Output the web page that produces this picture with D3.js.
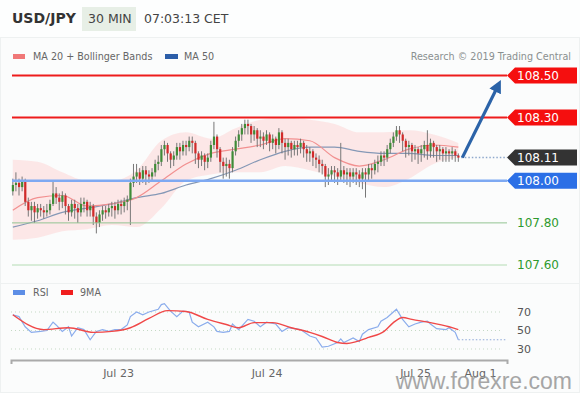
<!doctype html>
<html>
<head>
<script src="https://cdn.jsdelivr.net/npm/d3@7"></script>
<style>
  body { margin:0; background:#fff; }
  svg { font-family:"DejaVu Sans", sans-serif; display:block; }
</style>
</head>
<body>
<script>
// 30 min bars, Jul 22 07:00 -> Jul 25 07:00
var firstOpen = 107.95;
var closes = [
  107.98,107.99,107.97,108.00,107.90,107.86,107.88,107.85,107.87,107.86,
  107.85,107.86,107.89,107.94,107.92,107.90,107.93,107.88,107.85,107.89,
  107.87,107.85,107.89,107.90,107.86,107.88,107.83,107.80,107.84,107.86,
  107.85,107.87,107.88,107.86,107.89,107.88,107.90,107.91,107.99,108.02,
  108.04,108.01,108.05,108.03,108.02,108.04,108.08,108.09,108.15,108.17,
  108.13,108.10,108.12,108.16,108.14,108.17,108.16,108.19,108.18,108.13,
  108.10,108.12,108.09,108.11,108.17,108.21,108.15,108.09,108.07,108.08,
  108.06,108.14,108.19,108.22,108.25,108.27,108.26,108.22,108.24,108.20,
  108.21,108.19,108.22,108.18,108.20,108.17,108.23,108.18,108.16,108.18,
  108.15,108.17,108.16,108.18,108.15,108.13,108.14,108.11,108.10,108.08,
  108.07,108.02,108.03,108.05,108.04,108.02,108.05,108.03,108.04,108.02,
  108.04,108.03,108.01,108.04,108.03,108.06,108.05,108.08,108.09,108.12,
  108.11,108.15,108.18,108.21,108.24,108.22,108.19,108.16,108.17,108.14,
  108.15,108.13,108.15,108.17,108.14,108.18,108.16,108.14,108.15,108.13,
  108.14,108.13,108.14,108.12,108.11
];
var highs = [
  108.01,108.04,108.01,108.02,108.01,107.92,107.90,107.90,107.89,107.89,
  107.88,107.89,107.91,108.00,107.97,107.94,107.95,107.94,107.89,107.91,
  107.91,107.89,107.92,107.92,107.91,107.90,107.89,107.85,107.86,107.88,
  107.88,107.89,107.90,107.90,107.91,107.91,107.92,107.93,108.01,108.08,
  108.08,108.06,108.07,108.07,108.05,108.06,108.10,108.12,108.17,108.19,
  108.18,108.14,108.14,108.18,108.18,108.19,108.19,108.21,108.21,108.19,
  108.14,108.14,108.13,108.13,108.19,108.28,108.22,108.16,108.11,108.11,
  108.10,108.16,108.21,108.24,108.27,108.29,108.29,108.27,108.26,108.25,
  108.24,108.23,108.24,108.23,108.22,108.21,108.25,108.24,108.20,108.20,
  108.19,108.19,108.19,108.20,108.19,108.17,108.16,108.15,108.13,108.12,
  108.10,108.08,108.06,108.07,108.07,108.06,108.18,108.07,108.06,108.06,
  108.06,108.06,108.05,108.06,108.06,108.08,108.08,108.10,108.12,108.14,
  108.14,108.17,108.20,108.23,108.26,108.26,108.23,108.20,108.19,108.18,
  108.17,108.16,108.17,108.19,108.24,108.20,108.19,108.17,108.17,108.16,
  108.16,108.15,108.16,108.15,108.13
];
var lows = [
  107.93,107.95,107.93,107.95,107.88,107.83,107.81,107.80,107.82,107.83,
  107.82,107.83,107.84,107.88,107.89,107.86,107.87,107.84,107.81,107.83,
  107.82,107.80,107.83,107.85,107.83,107.83,107.79,107.75,107.78,107.81,
  107.82,107.83,107.83,107.82,107.84,107.84,107.85,107.86,107.79,107.97,
  107.99,107.98,107.99,107.98,107.99,108.00,108.02,108.05,108.07,108.12,
  108.09,108.06,108.07,108.10,108.10,108.12,108.12,108.14,108.13,108.08,
  108.06,108.07,108.05,108.06,108.09,108.15,108.11,108.04,108.01,108.02,
  108.01,108.04,108.12,108.16,108.19,108.22,108.22,108.18,108.19,108.16,
  108.16,108.15,108.17,108.14,108.15,108.13,108.15,108.13,108.10,108.12,
  108.11,108.12,108.12,108.13,108.11,108.09,108.09,108.07,108.06,108.04,
  108.03,107.97,107.98,108.00,107.99,107.98,108.00,107.99,107.98,107.97,
  107.99,107.98,107.97,107.96,107.92,108.00,108.01,108.03,108.04,108.07,
  108.07,108.09,108.13,108.16,108.19,108.18,108.14,108.11,108.12,108.09,
  108.10,108.08,108.09,108.11,108.10,108.11,108.11,108.09,108.10,108.09,
  108.09,108.09,108.10,108.09,108.09
];

// indicator samples (bar index -> value)
var bandIdx = [0,8,16,24,32,40,48,56,64,72,80,88,96,104,112,120,128,136,144];
var ma20    = [107.86,107.92,107.93,107.88,107.89,107.92,108.00,108.08,108.13,108.15,108.17,108.20,108.19,108.11,108.07,108.10,108.15,108.17,108.16];
var bbUpper = [108.10,108.09,108.04,108.00,108.00,108.05,108.19,108.23,108.20,108.25,108.29,108.30,108.29,108.27,108.23,108.23,108.24,108.22,108.18];
var bbLower = [107.72,107.73,107.76,107.77,107.79,107.78,107.87,108.00,108.03,108.04,108.04,108.07,108.05,108.02,107.99,107.97,108.01,108.08,108.11];
var ma50    = [107.78,107.81,107.85,107.87,107.89,107.92,107.94,107.98,108.01,108.05,108.10,108.14,108.16,108.16,108.14,108.13,108.13,108.12,108.12];

var rsiIdx = [0,2,4,6,9,11,13,14,16,18,19,21,23,25,27,29,31,33,35,37,38,40,42,44,47,48,49,51,53,55,57,58,60,63,65,66,68,70,71,73,76,78,80,82,85,87,89,93,96,98,100,102,105,106,107,110,112,113,115,118,119,121,123,124,126,128,130,132,134,135,137,140,141,143,144];
var rsiVal = [67,65,54,48,49,50,59,56,49,54,44,53,51,40,49,51,49,51,51,56,65,70,67,70,73,78,79,71,65,71,70,59,54,59,54,49,48,49,57,51,62,60,54,59,57,49,53,51,44,42,32,33,37,41,37,42,38,46,51,54,60,64,70,73,62,54,57,59,60,57,52,51,53,48,40];
var rsiMaIdx = [0,10,18,26,32,38,44,50,56,63,69,73,78,84,90,96,100,105,108,111,115,120,123,126,129,135,141,144];
var rsiMaVal = [67,51,53,48,49,53,63,71.5,70.5,62,56.5,53,58.5,58.5,53,48,43.5,37,36,38,42.5,49,58.5,64,62,58.5,54,51];

var levelPrices = [108.50, 108.30, 108.00, 107.80, 107.60];
var levelKinds  = ["res", "res", "sup", "minor", "minor2"];
var lastPrice = 108.11;
var targetPrice = 108.48;
var rsiTicks = [70, 50, 30];
var dayTicks = [new Date(2019,6,23), new Date(2019,6,24), new Date(2019,6,25), new Date(2019,6,25,10,30)];
var dayLabels = ["Jul 23", "Jul 24", "Jul 25", "Aug 1"];

var W = 580, H = 393;
var svg = d3.select("body").append("svg").attr("width", W).attr("height", H);

svg.append("rect").attr("width", W).attr("height", H).attr("fill", "#fdfefe");
svg.append("rect").attr("x", 0.5).attr("y", 37.5).attr("width", W - 1).attr("height", H - 38)
   .attr("fill", "#fbfcfc").attr("stroke", "#eef1f1");
svg.append("line").attr("x1", 1).attr("x2", W - 1).attr("y1", 283.5).attr("y2", 283.5).attr("stroke", "#eef1f1");

// scales
var t0 = new Date(2019,6,22,7,0);
var barTime = function(i){ return new Date(+t0 + i * 30 * 60000); };
var x = d3.scaleTime().domain([new Date(2019,6,23), new Date(2019,6,24)]).range([118, 266.5]);
var xi = function(i){ return x(barTime(i)); };
var y = d3.scaleLinear().domain([107.60, 108.50]).range([265, 75.5]);
var yr = d3.scaleLinear().domain([30, 70]).range([349, 312]);

// header
svg.append("text").attr("x", 12).attr("y", 23).attr("font-size", 14).attr("font-weight", "bold")
   .attr("fill", "#333").text("USD/JPY");
svg.append("rect").attr("x", 82).attr("y", 7).attr("width", 54).attr("height", 24).attr("fill", "#e7efe6");
svg.append("text").attr("x", 88).attr("y", 23).attr("font-size", 12.5).attr("fill", "#444").text("30 MIN");
svg.append("text").attr("x", 144).attr("y", 23).attr("font-size", 12.5).attr("fill", "#444").text("07:03:13 CET");

// legend
svg.append("rect").attr("x", 13).attr("y", 54).attr("width", 12).attr("height", 5).attr("fill", "#f07878");
svg.append("text").attr("x", 33).attr("y", 60).attr("font-size", 9.6).attr("fill", "#666").text("MA 20 + Bollinger Bands");
svg.append("rect").attr("x", 165).attr("y", 54).attr("width", 13).attr("height", 5).attr("fill", "#2c5ea8");
svg.append("text").attr("x", 184).attr("y", 60).attr("font-size", 9.6).attr("fill", "#666").text("MA 50");
svg.append("text").attr("x", 571).attr("y", 60).attr("text-anchor", "end").attr("font-size", 9.6)
   .attr("fill", "#8a9090").text("Research \u00a9 2019 Trading Central");

// bollinger band
var bandData = bandIdx.map(function(d, k){ return {i: d, up: bbUpper[k], lo: bbLower[k], m: ma20[k], m50: ma50[k]}; });
svg.append("path").datum(bandData)
   .attr("d", d3.area().curve(d3.curveMonotoneX).x(function(d){ return xi(d.i); })
     .y0(function(d){ return y(d.lo); }).y1(function(d){ return y(d.up); }))
   .attr("fill", "#fcdede").attr("opacity", 0.7);
svg.append("path").datum(bandData)
   .attr("d", d3.line().curve(d3.curveMonotoneX).x(function(d){ return xi(d.i); }).y(function(d){ return y(d.m50); }))
   .attr("fill", "none").attr("stroke", "#8598b6").attr("stroke-width", 1.2);
svg.append("path").datum(bandData)
   .attr("d", d3.line().curve(d3.curveMonotoneX).x(function(d){ return xi(d.i); }).y(function(d){ return y(d.m); }))
   .attr("fill", "none").attr("stroke", "#f29090").attr("stroke-width", 1.2);

// candles
var bars = closes.map(function(c, i){
  return {i: i, o: i ? closes[i - 1] : firstOpen, c: c, h: highs[i], l: lows[i]};
});
var cg = svg.append("g");
cg.selectAll("line").data(bars).enter().append("line")
  .attr("x1", function(d){ return xi(d.i); }).attr("x2", function(d){ return xi(d.i); })
  .attr("y1", function(d){ return y(d.h); }).attr("y2", function(d){ return y(d.l); })
  .attr("stroke", "#777").attr("stroke-width", 1);
cg.selectAll("rect").data(bars).enter().append("rect")
  .attr("x", function(d){ return xi(d.i) - 1; }).attr("width", 2.2)
  .attr("y", function(d){ return y(Math.max(d.o, d.c)); })
  .attr("height", function(d){ return Math.max(1, Math.abs(y(d.o) - y(d.c))); })
  .attr("fill", function(d){ return d.c >= d.o ? "#3f8c38" : "#d22a2a"; });

// level lines
var lineStyle = {
  res:    {stroke: "#ee1c1c", w: 2},
  sup:    {stroke: "#7ea9f2", w: 2.5},
  minor:  {stroke: "#93c493", w: 1},
  minor2: {stroke: "#b4dcb4", w: 1}
};
levelPrices.forEach(function(p, k){
  var s = lineStyle[levelKinds[k]];
  svg.append("line").attr("x1", 12).attr("x2", 507).attr("y1", y(p)).attr("y2", y(p))
     .attr("stroke", s.stroke).attr("stroke-width", s.w);
});

// last price dotted
svg.append("line").attr("x1", xi(bars.length - 1) + 3).attr("x2", 507)
   .attr("y1", y(lastPrice)).attr("y2", y(lastPrice))
   .attr("stroke", "#8ea8cc").attr("stroke-width", 1.5).attr("stroke-dasharray", "1.5,2");

// forecast arrow
svg.append("defs").append("marker").attr("id", "ah").attr("viewBox", "0 0 10 10")
   .attr("refX", 5).attr("refY", 5).attr("markerWidth", 4).attr("markerHeight", 4)
   .attr("orient", "auto")
   .append("path").attr("d", "M0,0 L10,5 L0,10 Z").attr("fill", "#2b63a8");
svg.append("line").attr("x1", xi(bars.length - 1) + 4).attr("y1", y(lastPrice))
   .attr("x2", 498).attr("y2", y(targetPrice) + 6)
   .attr("stroke", "#2b63a8").attr("stroke-width", 3.2).attr("marker-end", "url(#ah)");

// right tags
function tagPath(yc){
  return "M507," + yc + " L515," + (yc - 8) + " L577," + (yc - 8) + " L577," + (yc + 8) + " L515," + (yc + 8) + " Z";
}
var tagPrices = [108.50, 108.30, lastPrice, 108.00];
var tagColors = ["#f50f0f", "#f50f0f", "#333333", "#2b6fe6"];
tagPrices.forEach(function(p, k){
  svg.append("path").attr("d", tagPath(y(p))).attr("fill", tagColors[k]);
  svg.append("text").attr("x", 517).attr("y", y(p)).attr("dy", "0.36em").attr("font-size", 12)
     .attr("fill", "#fff").text(p.toFixed(2));
});
[107.80, 107.60].forEach(function(p){
  svg.append("text").attr("x", 517).attr("y", y(p)).attr("dy", "0.36em").attr("font-size", 12)
     .attr("fill", "#2e9a2e").text(p.toFixed(2));
});

// RSI panel legend
svg.append("rect").attr("x", 13).attr("y", 290).attr("width", 12).attr("height", 5).attr("fill", "#5d8ee6");
svg.append("text").attr("x", 33).attr("y", 296).attr("font-size", 9.6).attr("fill", "#666").text("RSI");
svg.append("rect").attr("x", 61).attr("y", 290).attr("width", 12).attr("height", 5).attr("fill", "#f01e1e");
svg.append("text").attr("x", 80).attr("y", 296).attr("font-size", 9.6).attr("fill", "#666").text("9MA");

rsiTicks.forEach(function(v){
  svg.append("line").attr("x1", 11).attr("x2", 500).attr("y1", yr(v)).attr("y2", yr(v))
     .attr("stroke", "#c5d9c5").attr("stroke-dasharray", "1,3");
  svg.append("text").attr("x", 517).attr("y", yr(v)).attr("dy", "0.36em").attr("font-size", 11)
     .attr("fill", "#555").text(v);
});

var rsiPts = rsiIdx.map(function(d, k){ return [xi(d), yr(rsiVal[k])]; });
svg.append("line").attr("x1", rsiPts[rsiPts.length - 1][0]).attr("x2", 507)
   .attr("y1", rsiPts[rsiPts.length - 1][1]).attr("y2", rsiPts[rsiPts.length - 1][1])
   .attr("stroke", "#8ea8d8").attr("stroke-dasharray", "1.5,2");
svg.append("path").attr("d", d3.line()(rsiPts))
   .attr("fill", "none").attr("stroke", "#8aacec").attr("stroke-width", 1.2);
var maPts = rsiMaIdx.map(function(d, k){ return [xi(d), yr(rsiMaVal[k])]; });
svg.append("path").attr("d", d3.line().curve(d3.curveMonotoneX)(maPts))
   .attr("fill", "none").attr("stroke", "#f04848").attr("stroke-width", 1.4);

// time axis
var xa = x.copy().domain([x.invert(11), x.invert(507)]).range([11, 507]);
var axis = svg.append("g").attr("transform", "translate(0,360)")
  .call(d3.axisBottom(xa).tickValues(dayTicks).tickSize(0).tickSizeOuter(4).tickPadding(9)
        .tickFormat(function(d, k){ return dayLabels[k]; }));
axis.select(".domain").attr("stroke", "#aaaaaa").attr("stroke-width", 2);
axis.selectAll("text").attr("font-size", 11).attr("fill", "#666").attr("font-family", "DejaVu Sans, sans-serif");

// watermark (overlaps the axis labels, as in the source)
svg.append("text").attr("x", 572).attr("y", 389).attr("text-anchor", "end")
   .attr("font-family", "Liberation Sans, Arial, sans-serif").attr("font-size", 23)
   .attr("fill", "#8a8a8a").attr("opacity", 0.75).text("www.forexre.com");
</script>
</body>
</html>
